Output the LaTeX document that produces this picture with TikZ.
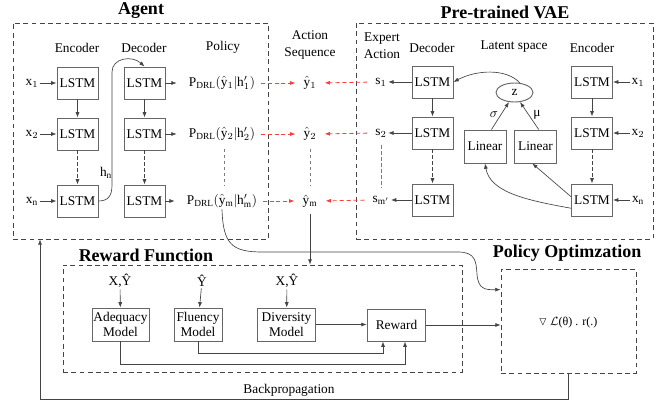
\documentclass[tikz,border=0pt]{standalone}
\usepackage{amssymb}
\usepackage{fontspec}
\setmainfont{Liberation Serif}
\usetikzlibrary{arrows.meta,calc,shapes.geometric}
\definecolor{boxc}{HTML}{666666}
\definecolor{linec}{HTML}{444444}
\definecolor{redc}{HTML}{FF3B3B}
\begin{document}
\begin{tikzpicture}[x=0.75pt,y=-0.75pt,font=\fontsize{10}{12.5}\selectfont,
  lstm/.style={draw=boxc,line width=0.7pt,minimum width=30.75pt,minimum height=24pt,inner sep=1pt},
  linbox/.style={draw=boxc,line width=0.7pt,minimum width=31.5pt,minimum height=24.75pt,inner sep=1pt},
  model/.style={draw=boxc,line width=0.7pt,minimum height=24.75pt,inner sep=1pt,align=center,font=\fontsize{10}{11.5}\selectfont},
  dbox/.style={draw=linec,line width=0.6pt,dash pattern=on 3.6pt off 2.6pt},
  title/.style={font=\bfseries\fontsize{13.5}{16}\selectfont},
  lbl/.style={align=center,inner sep=1pt},
  arr/.style={draw=linec,line width=0.5pt,-{Latex[length=4pt,width=3pt]}},
  dline/.style={draw=linec!70,line width=0.5pt,dash pattern=on 2.5pt off 2pt},
  darr/.style={arr,dash pattern=on 2.5pt off 2pt},
  redarr/.style={draw=redc,line width=0.6pt,dash pattern=on 3pt off 2.2pt,-{Latex[length=4pt,width=3pt]}}]
\useasboundingbox (0,0) rectangle (670,402);

% frames
\node[dbox,minimum width=191.25pt,minimum height=162pt] (agent) at (140.5,131) {};
\node[dbox,minimum width=222.75pt,minimum height=162pt] (vae) at (504.5,131) {};
\node[dbox,minimum width=299.25pt,minimum height=80.25pt] (rf) at (262.5,318.5) {};
\node[dbox,minimum width=101.25pt,minimum height=78pt] (po) at (568.5,321) {};

\node[title] (tagent) at (141,11) {Agent};
\node[title] (tvae) at (505,12) {Pre-trained VAE};
\node[title] (trf) at (146,255) {Reward Function};
\node[title] (tpo) at (567,253) {Policy Optimzation};

% column labels
\node[lbl] (lenc) at (77,48) {Encoder};
\node[lbl] (ldec) at (144,48) {Decoder};
\node[lbl] (lpol) at (223,47) {Policy};
\node[lbl] (lact) at (310,45) {Action\\Sequence};
\node[lbl] (lexp) at (382,46) {Expert\\Action};
\node[lbl] (lvdec) at (432,48) {Decoder};
\node[lbl] (llat) at (514,47) {Latent space};
\node[lbl] (lvenc) at (592,48) {Encoder};

% agent
\node[lstm] (enc1) at (77.5,83) {LSTM};
\node[lstm] (enc2) at (77.5,134) {LSTM};
\node[lstm] (enc3) at (77.5,201) {LSTM};
\node[lstm] (dec1) at (144.5,83) {LSTM};
\node[lstm] (dec2) at (144.5,134) {LSTM};
\node[lstm] (dec3) at (144.5,201) {LSTM};
\node[lbl] (x1) at (32,83) {$\mathrm{x}_1$};
\node[lbl] (x2) at (32,134) {$\mathrm{x}_2$};
\node[lbl] (xn) at (32,201) {$\mathrm{x}_\mathrm{n}$};
\node[lbl] (p1) at (222,83) {$\mathrm{P}_{\mathrm{DRL}}(\hat{\mathrm{y}}_1|\mathrm{h}'_1)$};
\node[lbl] (p2) at (222,134) {$\mathrm{P}_{\mathrm{DRL}}(\hat{\mathrm{y}}_2|\mathrm{h}'_2)$};
\node[lbl] (pm) at (222,201) {$\mathrm{P}_{\mathrm{DRL}}(\hat{\mathrm{y}}_\mathrm{m}|\mathrm{h}'_\mathrm{m})$};
\node[lbl] (y1) at (310,83) {$\hat{\mathrm{y}}_1$};
\node[lbl] (y2) at (310,134) {$\hat{\mathrm{y}}_2$};
\node[lbl] (ym) at (310,201) {$\hat{\mathrm{y}}_\mathrm{m}$};
\node[lbl] (hn) at (106,173) {$\mathrm{h}_\mathrm{n}$};

\draw[arr] (x1) -- (enc1);
\draw[arr] (x2) -- (enc2);
\draw[arr] (xn) -- (enc3);
\draw[arr] (enc1) -- (enc2);
\draw[darr] (enc2) -- (enc3);
\draw[arr] (dec1) -- (dec2);
\draw[darr] (dec2) -- (dec3);
\draw[arr,shorten >=8pt] (dec1.east) -- (p1.west);
\draw[arr,shorten >=8pt] (dec2.east) -- (p2.west);
\draw[arr,shorten >=8pt] (dec3.east) -- (pm.west);
\draw[arr] (enc3.east) .. controls (108,201) and (112,196) .. (112,185) -- (112,72) .. controls (112,58) and (132,55) .. (dec1.north);
\draw[redarr,shorten <=3pt,shorten >=5pt] (p1.east) -- (y1.west);
\draw[redarr,shorten <=3pt,shorten >=5pt] (p2.east) -- (y2.west);
\draw[redarr,shorten <=3pt,shorten >=5pt] (pm.east) -- (ym.west);
\draw[dline,shorten <=5pt,shorten >=5pt] ($(p2.south)+(2,0)$) -- ($(pm.north)+(2,0)$);
\draw[dline,shorten <=5pt,shorten >=5pt] (y2.south) -- (ym.north);

% VAE
\node[lstm] (vdec1) at (432.5,82) {LSTM};
\node[lstm] (vdec2) at (432.5,133) {LSTM};
\node[lstm] (vdec3) at (432.5,200) {LSTM};
\node[lstm] (venc1) at (592,82) {LSTM};
\node[lstm] (venc2) at (592,133) {LSTM};
\node[lstm] (venc3) at (592,200) {LSTM};
\node[lbl] (s1) at (381,82) {$\mathrm{s}_1$};
\node[lbl] (s2) at (381,133) {$\mathrm{s}_2$};
\node[lbl] (sm) at (381,200) {$\mathrm{s}_{\mathrm{m}'}$};
\node[lbl] (vx1) at (638,82) {$\mathrm{x}_1$};
\node[lbl] (vx2) at (638,133) {$\mathrm{x}_2$};
\node[lbl] (vxn) at (638,200) {$\mathrm{x}_\mathrm{n}$};
\node[draw=boxc,line width=0.7pt,ellipse,minimum width=27.75pt,minimum height=14.25pt,inner sep=0pt] (z) at (514.5,92.5) {z};
\node[linbox] (lin1) at (485,146.5) {Linear};
\node[linbox] (lin2) at (535.5,146.5) {Linear};
\node[lbl] (sig) at (494,115) {$\sigma$};
\node[lbl] (mu) at (537,115) {μ};

\draw[arr] (vx1) -- (venc1);
\draw[arr] (vx2) -- (venc2);
\draw[arr] (vxn) -- (venc3);
\draw[arr] (venc1) -- (venc2);
\draw[darr] (venc2) -- (venc3);
\draw[arr] (vdec1) -- (vdec2);
\draw[darr] (vdec2) -- (vdec3);
\draw[arr] (vdec1) -- (s1);
\draw[arr] (vdec2) -- (s2);
\draw[arr] (vdec3) -- (sm);
\draw[dline,shorten <=5pt,shorten >=5pt] (s2.south) -- (sm.north);
\draw[redarr,shorten <=5pt,shorten >=5pt] (s1.west) -- (y1.east);
\draw[redarr,shorten <=5pt,shorten >=5pt] (s2.west) -- (y2.east);
\draw[redarr,shorten <=5pt,shorten >=5pt] (sm.west) -- (ym.east);
\draw[arr] ($(lin1.north)!0.3!(lin1.north east)$) -- (z.240);
\draw[arr] ($(lin2.north)!0.15!(lin2.north east)$) -- (z.300);
\draw[arr] (z.60) .. controls (506,68) and (476,70) .. (vdec1.east);
\draw[arr] ($(venc3.north west)!0.4!(venc3.south west)$) -- ($(lin2.south)!0.15!(lin2.south west)$);
\draw[arr] ($(venc3.north west)!0.75!(venc3.south west)$) .. controls (525,200) and (490,192) .. (lin1.south);

% reward function
\node[lbl] (in1) at (120,281) {X,Ŷ};
\node[lbl] (in2) at (202,281) {Ŷ};
\node[lbl] (in3) at (287,281) {X,Ŷ};
\node[model,minimum width=42.75pt] (ade) at (120.5,324.5) {Adequacy\\Model};
\node[model,minimum width=36pt] (flu) at (198,324.5) {Fluency\\Model};
\node[model,minimum width=44pt] (div) at (286.5,324.5) {Diversity\\Model};
\node[model,minimum width=44pt,minimum height=24pt] (rew) at (396.5,325) {Reward};
\draw[arr] (in1) -- (ade);
\draw[arr] (in2) -- (flu);
\draw[arr] (in3) -- (div);
\draw[arr] (div.east) -- (rew.west |- div.east);
\coordinate (fl) at (383,353);
\coordinate (ad) at (405,364);
\draw[arr] (flu.south) |- (fl) -- (fl |- rew.south);
\draw[arr] (ade.south) |- (ad) -- (ad |- rew.south);

% policy optimization
\node[lbl,font=\fontsize{9}{11}\selectfont] (grad) at (568,323) {$\triangledown$ $\mathcal{L}$(θ) . r(.)};
\coordinate (poin) at ($(po.north west)!0.2!(po.south west)$);
\draw[arr] (rew.east) -- (po.west |- rew.east);
\draw[arr,shorten <=4pt] (ym.south) -- (ym.south |- rf.north);
\draw[arr] (pm.south) .. controls (223,244) and (232,252) .. (262,252) -- (458,252) .. controls (476,252) and (476,262) .. (477,274) .. controls (478,289) and (485,290) .. (poin);

% backpropagation
\coordinate (bp) at (40,399);
\draw[arr] (po.south) |- (bp) -- (bp |- agent.south);
\node[lbl] (bpl) at (289,390) {Backpropagation};
\end{tikzpicture}
\end{document}
